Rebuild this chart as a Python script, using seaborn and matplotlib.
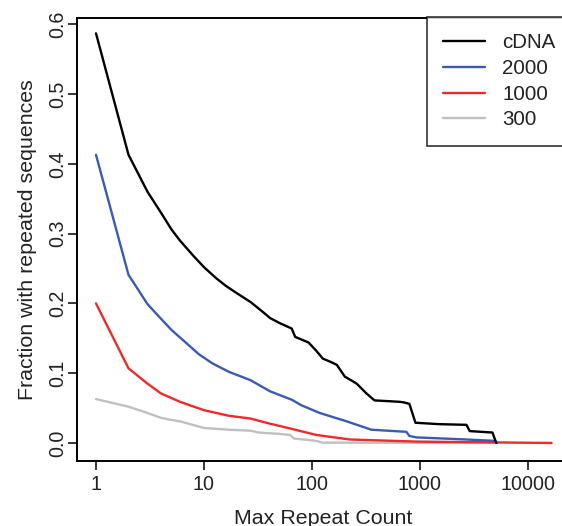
import matplotlib
matplotlib.use("Agg")
import matplotlib.pyplot as plt
import seaborn as sns
import pandas as pd

# Max repeat count vs fraction with repeated sequences
cdna_x = [1, 2, 3, 4, 5, 6, 8, 10, 13, 16, 20, 27, 35, 41, 50, 65, 70, 93,
          110, 126, 150, 170, 202, 230, 260, 320, 380, 500, 650, 720, 800,
          910, 1500, 2700, 2900, 4700, 5100]
cdna_y = [0.587, 0.413, 0.360, 0.330, 0.306, 0.290, 0.268, 0.252, 0.236,
          0.225, 0.215, 0.202, 0.188, 0.179, 0.172, 0.164, 0.152, 0.144,
          0.132, 0.121, 0.116, 0.112, 0.095, 0.090, 0.085, 0.071, 0.061,
          0.060, 0.059, 0.058, 0.056, 0.029, 0.027, 0.026, 0.017, 0.015, 0.0]

k2000_x = [1, 2, 3, 4, 5, 7, 9, 12, 17, 27, 41, 65, 80, 118, 210, 355, 750,
           800, 930, 2700, 5000, 5200]
k2000_y = [0.413, 0.241, 0.199, 0.178, 0.162, 0.142, 0.127, 0.114, 0.102,
           0.090, 0.074, 0.062, 0.054, 0.043, 0.031, 0.019, 0.016, 0.010,
           0.008, 0.005, 0.003, 0.0]

k1000_x = [1, 2, 3, 4, 6, 10, 17, 27, 40, 62, 110, 225, 930, 3800, 16600]
k1000_y = [0.200, 0.107, 0.085, 0.071, 0.059, 0.047, 0.039, 0.035, 0.028,
           0.021, 0.0115, 0.005, 0.002, 0.001, 0.0]

k300_x = [1, 2, 3, 4, 5, 6, 10, 17, 27, 32, 50, 63, 68, 110, 125, 5000]
k300_y = [0.063, 0.052, 0.043, 0.036, 0.033, 0.031, 0.0215, 0.019, 0.0176,
          0.015, 0.013, 0.0115, 0.0065, 0.003, 0.0005, 0.0]

series = ["cDNA", "2000", "1000", "300"]
colors = ["#000000", "#3b5bb0", "#ee2a2a", "#c0c0c0"]

frames = []
for name, xs, ys in zip(series,
                        [cdna_x, k2000_x, k1000_x, k300_x],
                        [cdna_y, k2000_y, k1000_y, k300_y]):
    frames.append(pd.DataFrame({"count": xs, "frac": ys, "set": name}))
df = pd.concat(frames, ignore_index=True)

sns.set_theme(style="ticks")
plt.rcParams["font.family"] = ["Liberation Sans", "DejaVu Sans"]

fig = plt.figure(figsize=(5.62, 5.26), dpi=100)
ax = fig.add_axes([0.1379, 0.1236, 0.876, 0.843])

# grey first, black on top
for name, col in reversed(list(zip(series, colors))):
    sns.lineplot(data=df[df["set"] == name], x="count", y="frac",
                 color=col, linewidth=1.7, sort=False, estimator=None,
                 label=name, ax=ax)

ax.set_xscale("log")
ax.set_xlim(0.674, 24490)
ax.set_ylim(-0.0258, 0.6096)
ax.set_xticks([1, 10, 100, 1000, 10000])
ax.set_xticklabels(["1", "10", "100", "1000", "10000"])
ax.minorticks_off()
ax.set_yticks([0.0, 0.1, 0.2, 0.3, 0.4, 0.5, 0.6])
ax.set_yticklabels(["0.0", "0.1", "0.2", "0.3", "0.4", "0.5", "0.6"],
                   rotation=90, va="center")
ax.tick_params(axis="both", labelsize=14.2, length=6.5, width=1.1,
               color="black", labelcolor="#222222")
ax.tick_params(axis="x", pad=3.6)
ax.tick_params(axis="y", pad=1)
for s in ax.spines.values():
    s.set_linewidth(1.4)
    s.set_color("black")

ax.set_xlabel("Max Repeat Count", fontsize=15.4, color="#222222",
              labelpad=10.8)
ax.set_ylabel("Fraction with repeated sequences", fontsize=15.4,
              color="#222222", labelpad=8)

handles, labels = ax.get_legend_handles_labels()
order = [labels.index(n) for n in series]
leg = ax.legend([handles[i] for i in order], [labels[i] for i in order],
                loc="upper left",
                bbox_to_anchor=(427 / 562, 1 - 17 / 526, 0.3, 0),
                bbox_transform=fig.transFigure, mode="expand",
                fontsize=14.8, frameon=True, fancybox=False,
                handlelength=2.0, handletextpad=0.87, labelspacing=0.325,
                borderpad=0.8, borderaxespad=0)
leg.get_frame().set_edgecolor("black")
leg.get_frame().set_linewidth(1.2)
for t in leg.get_texts():
    t.set_color("#222222")

fig.savefig("out.png", dpi=100)
